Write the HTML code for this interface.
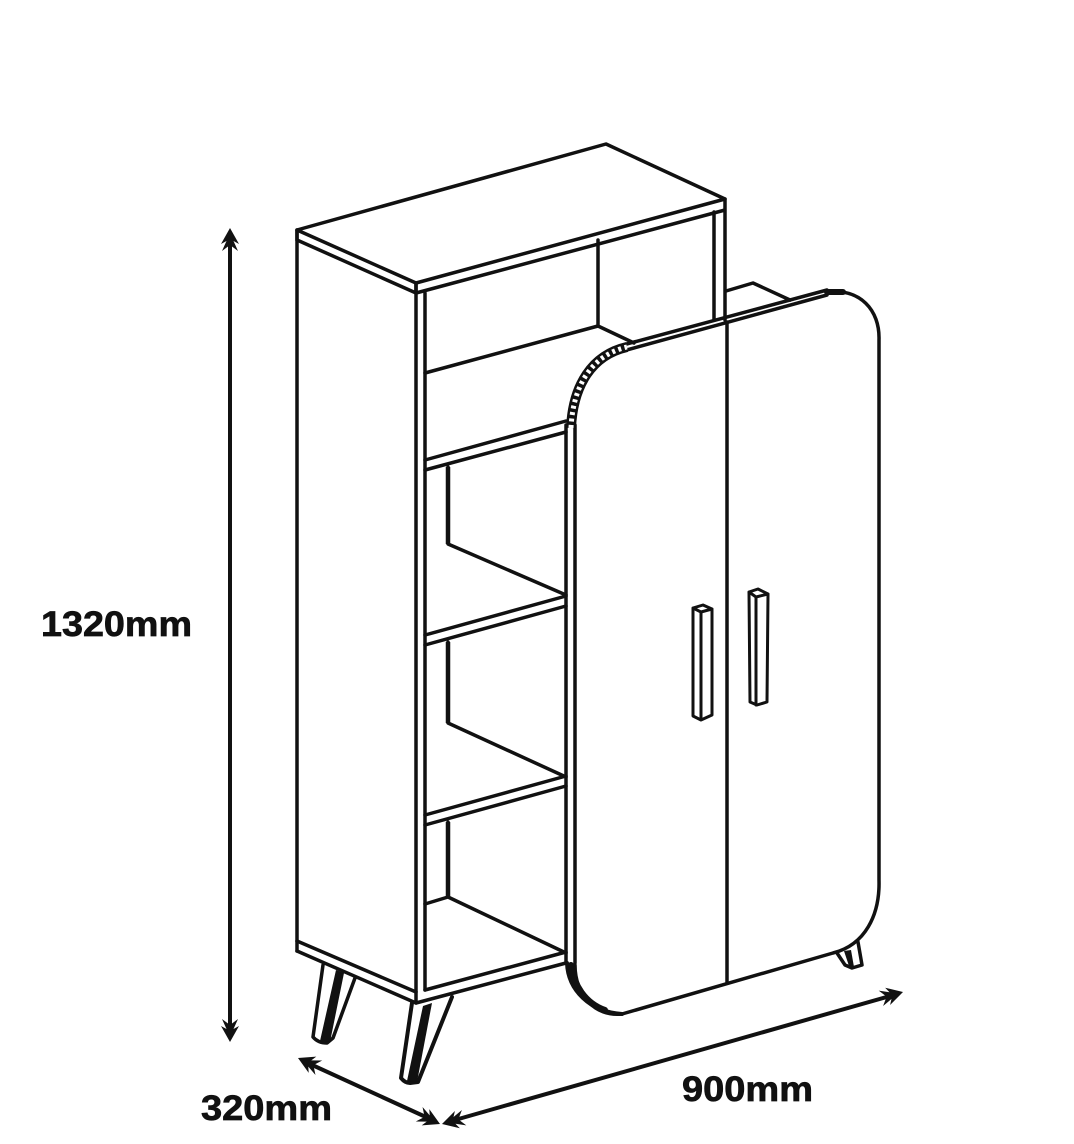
<!DOCTYPE html>
<html><head><meta charset="utf-8"><style>html,body{margin:0;padding:0;background:#fff}svg{display:block}</style></head><body>
<svg width="1074" height="1144" viewBox="0 0 1074 1144" xmlns="http://www.w3.org/2000/svg">
<defs><path id="ah" d="M0 0L9 16L3.5 13L8 23L0 17L-8 23L-3.5 13L-9 16Z" fill="#111"/></defs>
<g fill="none" stroke="#111" stroke-width="3.5" stroke-linejoin="round" stroke-linecap="round">
<!-- top -->
<path d="M297 230L606 144L725 199L416 283Z"/>
<path d="M297 240L416 293L725 210M297 230V240M416 283V293M725 199V320M714 212V320"/>
<!-- sides -->
<path d="M297 230V951M416 283V1003M425 293V990"/>
<path d="M297 941L416 992M297 951L416 1003L566 963M425 990L566 952"/>
<!-- interior -->
<path d="M598 240V326M425 373L598 326L634 343"/>
<path d="M425 460L566 421M425 470L566 432"/>
<path d="M448 467V544L566 595M425 635L566 596M425 645L566 606"/>
<path d="M448 642V723L566 777M425 815L566 776M425 825L566 786"/>
<path d="M448 822V897M425 904L448 897L566 953"/>
<path d="M448 467V544M448 642V723M448 822V897" stroke-width="4.5" stroke-linecap="butt"/>
<path d="M726 291L753 283L790 300" />
<!-- door -->
<path d="M566 425V963M575 425V963"/>
<path d="M623 345L827 290M623 351L827 295"/>
<path d="M827 292C860 288 880 310 879 340V880C880 915 865 945 833 953L622 1014C595 1017 575 995 575 965"/>
<path d="M727 322V982"/>
<path d="M571 428C573 385 592 355 627 347" stroke="#111" stroke-width="10" stroke-linecap="butt"/>
<path d="M571 428C573 385 592 355 627 347" stroke="#fff" stroke-width="5" stroke-dasharray="3 3.5" stroke-linecap="butt"/>
<path d="M827 292H843" stroke-width="6"/>
<path d="M567 963C568 990 590 1012 622 1014" stroke-width="4"/>
<path d="M571 965C574 985 585 1003 605 1010" stroke-width="6"/>
<!-- handles -->
<path d="M693 608L703 605L712 609L701 612ZM693 608V716L701 720L712 715V609M701 612V720" stroke-width="3"/>
<path d="M749 592L758 589L768 594L756 597ZM749 592L750 702L757 705L767 702L768 594M756 597V705" stroke-width="3"/>
<!-- legs -->
<path d="M323 965L313 1037Q318 1043 327 1043L333 1038L355 978"/>
<path d="M412 1003L401 1078Q405 1083 410 1083L418 1082L452 997" stroke-width="4"/>
<path d="M837 953L845 965L852 968L862 965L858 942"/>
</g>
<g fill="#111" stroke="none">
<path d="M336 970L344 973L330 1042L320 1041Z"/>
<path d="M423 1006L432 1003L417 1082L407 1081Z"/>
<path d="M844 951L851 950L854 967L849 966Z"/>
</g>
<!-- dimensions -->
<g fill="none" stroke="#111" stroke-width="4">
<path d="M230 240V1030M310 1064L428 1118M455 1120L890 996"/>
</g>
<use href="#ah" transform="translate(230 228)"/>
<use href="#ah" transform="translate(230 1042) rotate(180)"/>
<use href="#ah" transform="translate(298 1058) rotate(-65)"/>
<use href="#ah" transform="translate(440 1124) rotate(115)"/>
<use href="#ah" transform="translate(442 1124) rotate(-106)"/>
<use href="#ah" transform="translate(903 992) rotate(74)"/>
<g font-family="'Liberation Sans',sans-serif" font-weight="700" font-size="35" fill="#111" stroke="#111" stroke-width="0.7">
<text x="41" y="636" textLength="151" lengthAdjust="spacingAndGlyphs">1320mm</text>
<text x="201" y="1120" textLength="131" lengthAdjust="spacingAndGlyphs">320mm</text>
<text x="682" y="1101" textLength="131" lengthAdjust="spacingAndGlyphs">900mm</text>
</g>
</svg>
</body></html>
